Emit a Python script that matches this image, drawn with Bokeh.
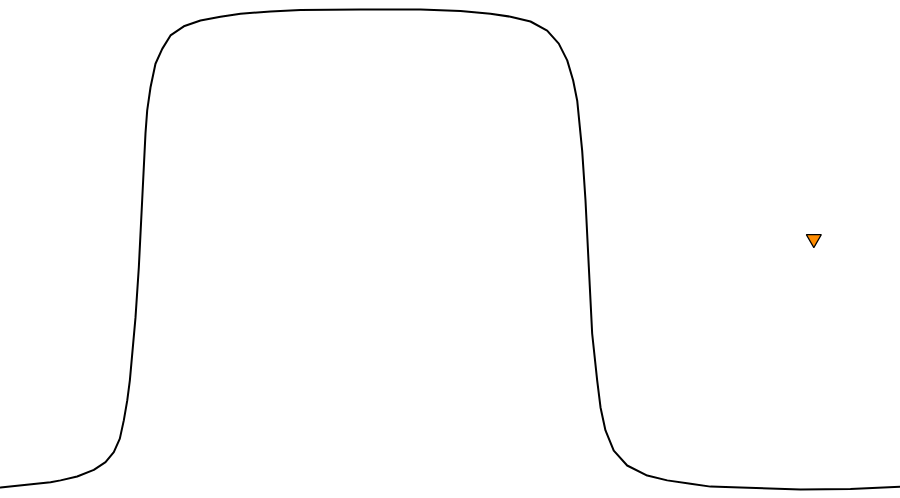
from bokeh.plotting import figure
from bokeh.models import Range1d
from bokeh.embed import file_html
from bokeh.resources import INLINE

# Curve values (x: 0..10, y: 0..1 plateau height)
curve_x = [0.000, 0.556, 0.667, 0.852, 1.037, 1.167, 1.259, 1.326, 1.370, 1.408,
           1.437, 1.500, 1.537, 1.574, 1.611, 1.630, 1.667, 1.722, 1.797, 1.889,
           2.037, 2.222, 2.444, 2.667, 3.000, 3.333, 4.000, 4.667, 5.111, 5.444,
           5.667, 5.889, 6.074, 6.203, 6.297, 6.363, 6.408, 6.463, 6.500, 6.537,
           6.574, 6.630, 6.667, 6.722, 6.814, 6.963, 7.186, 7.408, 7.667, 7.889,
           8.222, 8.889, 9.444, 10.000]
curve_y = [0.004, 0.015, 0.019, 0.027, 0.041, 0.057, 0.078, 0.106, 0.144, 0.185,
           0.227, 0.358, 0.463, 0.602, 0.742, 0.790, 0.838, 0.887, 0.918, 0.946,
           0.965, 0.977, 0.985, 0.991, 0.996, 0.999, 1.000, 1.000, 0.997, 0.991,
           0.985, 0.975, 0.956, 0.929, 0.894, 0.852, 0.810, 0.706, 0.602, 0.463,
           0.325, 0.227, 0.171, 0.123, 0.081, 0.050, 0.029, 0.019, 0.012, 0.006,
           0.004, 0.000, 0.001, 0.006]

marker_x = [9.037]
marker_y = [0.522]

p = figure(width=908, height=506, output_backend="svg", toolbar_location=None,
           x_range=Range1d(-0.0889, 10.0), y_range=Range1d(-0.01875, 1.03542),
           min_border=0, margin=(-8, 0, 0, -8))
p.axis.visible = False
p.grid.visible = False
p.outline_line_color = None
p.background_fill_color = "white"
p.border_fill_color = "white"

p.line(curve_x, curve_y, line_color="black", line_width=2,
       line_join="round", line_cap="round")
p.scatter(marker_x, marker_y, marker="inverted_triangle", size=15,
          fill_color="#ff8c00", line_color="black", line_width=1.2)

open("out.html", "w").write(file_html(p, INLINE))
